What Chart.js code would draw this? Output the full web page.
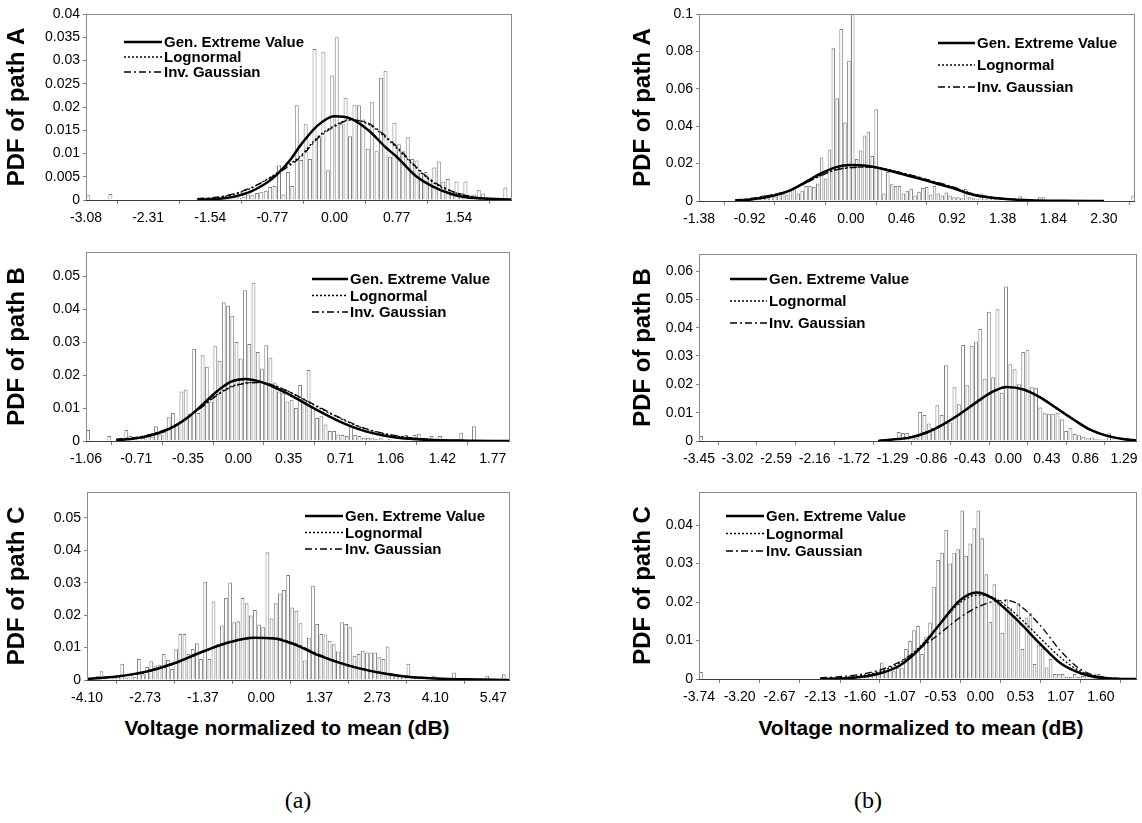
<!DOCTYPE html>
<html>
<head>
<meta charset="utf-8">
<script src="https://cdn.jsdelivr.net/npm/chart.js@4.4.0/dist/chart.umd.min.js"></script>
<style>
  body { margin: 0; background: #fff; width: 1142px; height: 823px; position: relative; overflow: hidden;
         font-family: "Liberation Sans", Arial, sans-serif; }
  canvas { position: absolute; }
  .xtitle { position: absolute; font-weight: bold; font-size: 21px; line-height: 24px; text-align: center; }
  .cap { position: absolute; font-family: "Liberation Serif", "Times New Roman", serif; font-size: 24px;
         line-height: 28px; text-align: center; width: 80px; }
</style>
</head>
<body>
<canvas id="aA"></canvas>
<canvas id="aB"></canvas>
<canvas id="aC"></canvas>
<canvas id="bA"></canvas>
<canvas id="bB"></canvas>
<canvas id="bC"></canvas>
<div class="xtitle" style="left:0;width:574px;top:716px">Voltage normalized to mean (dB)</div>
<div class="xtitle" style="left:621px;width:600px;top:716px">Voltage normalized to mean (dB)</div>
<div class="cap" style="left:258px;top:786px">(a)</div>
<div class="cap" style="left:828px;top:786px">(b)</div>
<script>
// Histogrammen (PDF per bin) + drie gefitte verdelingen, zes panelen.

const LABELS = ['Gen. Extreme Value', 'Lognormal', 'Inv. Gaussian'];

// ---- (a) path A ----
const aA_x0 = -3.08, aA_bw = 0.055;
const aA_hist = [
  0.0010, 0, 0, 0, 0, 0.0013, 0, 0, 0, 0,
  0, 0, 0, 0, 0, 0, 0, 0, 0, 0,
  0, 0, 0, 0, 0, 0, 0, 0, 0, 0,
  0, 0.0002, 0.0002, 0.0003, 0.0005, 0.0007, 0.0012, 0.0010, 0.0015, 0.0018,
  0.0020, 0.0028, 0.0030, 0.0074, 0.0012, 0.0060, 0.0030, 0.0204, 0.0086, 0.0163,
  0.0088, 0.0325, 0.0135, 0.0318, 0.0064, 0.0268, 0.0350, 0.0163, 0.0220, 0.0137,
  0.0204, 0.0204, 0.0173, 0.0110, 0.0210, 0.0105, 0.0263, 0.0278, 0.0093, 0.0166,
  0.0120, 0.0105, 0.0135, 0.0088, 0.0085, 0.0058, 0.0060, 0.0046, 0.0070, 0.0083,
  0.0040, 0.0045, 0.0020, 0.0040, 0.0015, 0.0040, 0.0010, 0.0012, 0.0022, 0.0014,
  0.0006, 0, 0, 0, 0.0027, 0
];
const aA_cx   = [-1.70, -1.46, -1.25, -1.04, -0.77, -0.55, -0.42, -0.21, 0.00, 0.20, 0.42, 0.63, 0.77, 1.02, 1.22, 1.43, 1.59, 1.84, 2.20];
const aA_gev  = [0.0000, 0.0002, 0.0007, 0.0018, 0.0046, 0.0086, 0.0118, 0.0160, 0.0180, 0.0175, 0.0150, 0.0114, 0.0093, 0.0050, 0.0029, 0.0014, 0.0007, 0.0003, 0.0001];
const aA_logn = [0.0002, 0.0005, 0.0012, 0.0025, 0.0052, 0.0078, 0.0095, 0.0135, 0.0160, 0.0173, 0.0163, 0.0135, 0.0112, 0.0068, 0.0038, 0.0020, 0.0011, 0.0004, 0.0001];
const aA_invg = [0.0003, 0.0006, 0.0013, 0.0026, 0.0050, 0.0075, 0.0092, 0.0132, 0.0158, 0.0172, 0.0165, 0.0138, 0.0115, 0.0070, 0.0040, 0.0021, 0.0011, 0.0004, 0.0001];
const aA_ticks  = [-3.08, -2.31, -1.54, -0.77, 0.00, 0.77, 1.54];
const aA_yticks = [0, 0.005, 0.01, 0.015, 0.02, 0.025, 0.03, 0.035, 0.04];

// ---- (a) path B ----
const aB_x0 = -1.06, aB_bw = 0.0295;
const aB_hist = [
  0.0033, 0, 0, 0, 0, 0.0015, 0, 0, 0, 0.0033,
  0.0015, 0.0008, 0.0003, 0.0010, 0.0018, 0.0013, 0.0045, 0.0020, 0.0028, 0.0072,
  0.0085, 0.0050, 0.0150, 0.0156, 0.0082, 0.0280, 0.0085, 0.0260, 0.0225, 0.0120,
  0.0287, 0.0243, 0.0421, 0.0410, 0.0380, 0.0300, 0.0250, 0.0457, 0.0294, 0.0480,
  0.0270, 0.0220, 0.0290, 0.0253, 0.0177, 0.0150, 0.0146, 0.0120, 0.0125, 0.0100,
  0.0170, 0.0125, 0.0215, 0.0100, 0.0070, 0.0075, 0.0050, 0.0030, 0.0030, 0.0020,
  0.0018, 0.0015, 0.0045, 0.0018, 0.0015, 0.0010, 0.0010, 0.0008, 0.0005, 0.0008,
  0, 0.0005, 0, 0, 0, 0.0018, 0, 0.0018, 0.0022, 0,
  0, 0.0015, 0, 0.0015, 0, 0, 0, 0, 0.0025, 0,
  0, 0.0045, 0, 0, 0, 0, 0, 0, 0, 0
];
const aB_cx   = [-0.85, -0.71, -0.62, -0.53, -0.44, -0.35, -0.25, -0.15, -0.05, 0.05, 0.15, 0.25, 0.35, 0.53, 0.71, 0.88, 1.06, 1.24, 1.42, 1.60, 1.89];
const aB_gev  = [0.0002, 0.0008, 0.0016, 0.0028, 0.0046, 0.0072, 0.0110, 0.0150, 0.0180, 0.0188, 0.0180, 0.0163, 0.0142, 0.0098, 0.0058, 0.0030, 0.0013, 0.0005, 0.0002, 0.0001, 0.0000];
const aB_logn = [0.0004, 0.0010, 0.0018, 0.0030, 0.0047, 0.0072, 0.0105, 0.0140, 0.0165, 0.0176, 0.0178, 0.0168, 0.0150, 0.0108, 0.0068, 0.0037, 0.0018, 0.0008, 0.0003, 0.0001, 0.0000];
const aB_invg = [0.0005, 0.0011, 0.0019, 0.0031, 0.0048, 0.0072, 0.0104, 0.0138, 0.0163, 0.0175, 0.0177, 0.0168, 0.0150, 0.0110, 0.0070, 0.0038, 0.0019, 0.0008, 0.0003, 0.0001, 0.0000];
const aB_ticks  = [-1.06, -0.71, -0.35, 0.00, 0.35, 0.71, 1.06, 1.42, 1.77];
const aB_yticks = [0, 0.01, 0.02, 0.03, 0.04, 0.05];

// ---- (a) path C ----
const aC_x0 = -4.10, aC_bw = 0.09764;
const aC_hist = [
  0.0003, 0.0008, 0.0013, 0.0027, 0.0003, 0, 0.0005, 0.0013, 0.0050, 0.0008,
  0.0018, 0.0010, 0.0065, 0.0018, 0.0040, 0.0058, 0.0045, 0.0047, 0.0080, 0.0062,
  0.0034, 0.0095, 0.0142, 0.0142, 0.0080, 0.0096, 0.0113, 0.0065, 0.0303, 0.0065,
  0.0242, 0.0110, 0.0168, 0.0253, 0.0301, 0.0178, 0.0181, 0.0253, 0.0237, 0.0199,
  0.0216, 0.0171, 0.0163, 0.0394, 0.0190, 0.0237, 0.0267, 0.0278, 0.0324, 0.0224,
  0.0214, 0.0175, 0.0060, 0.0130, 0.0291, 0.0173, 0.0142, 0.0140, 0.0121, 0.0110,
  0.0088, 0.0178, 0.0173, 0.0163, 0.0075, 0.0080, 0.0090, 0.0085, 0.0085, 0.0085,
  0.0070, 0.0065, 0.0103, 0.0020, 0.0018, 0.0015, 0.0012, 0.0050, 0.0010, 0.0008,
  0.0005, 0.0005, 0.0005, 0.0013, 0.0003, 0, 0.0003, 0, 0.0023, 0,
  0, 0, 0, 0, 0, 0, 0.0013, 0, 0, 0,
  0.0018, 0
];
const aC_cx   = [-4.10, -3.40, -2.73, -2.08, -1.37, -0.73, -0.17, 0.30, 0.78, 1.37, 2.04, 2.73, 3.38, 4.10, 4.80, 5.47, 5.86];
const aC_gev  = [0.0003, 0.0011, 0.0025, 0.0050, 0.0088, 0.0117, 0.0130, 0.0128, 0.0110, 0.0075, 0.0045, 0.0024, 0.0011, 0.0005, 0.0002, 0.0001, 0.0000];
const aC_logn = [0.0003, 0.0010, 0.0024, 0.0049, 0.0087, 0.0117, 0.0130, 0.0129, 0.0112, 0.0077, 0.0046, 0.0024, 0.0011, 0.0005, 0.0002, 0.0001, 0.0000];
const aC_invg = [0.0004, 0.0011, 0.0024, 0.0048, 0.0086, 0.0116, 0.0129, 0.0129, 0.0113, 0.0078, 0.0047, 0.0025, 0.0012, 0.0005, 0.0002, 0.0001, 0.0000];
const aC_ticks  = [-4.10, -2.73, -1.37, 0.00, 1.37, 2.73, 4.10, 5.47];
const aC_yticks = [0, 0.01, 0.02, 0.03, 0.04, 0.05];

// ---- (b) path A ----
const bA_x0 = -1.38, bA_bw = 0.03538;
const bA_hist = [
  0, 0, 0, 0, 0, 0, 0, 0, 0, 0,
  0, 0.0003, 0.0005, 0.0008, 0.0010, 0.0012, 0.0034, 0.0020, 0.0030, 0.0025,
  0.0045, 0.0040, 0.0035, 0.0057, 0.0062, 0.0040, 0.0055, 0.0080, 0.0080, 0.0075,
  0.0093, 0.0233, 0.0120, 0.0276, 0.0817, 0.0550, 0.0920, 0.0420, 0.0750, 0.1000,
  0.0224, 0.0270, 0.0350, 0.0370, 0.0240, 0.0490, 0.0180, 0.0040, 0.0155, 0.0090,
  0.0080, 0.0080, 0.0040, 0.0055, 0.0065, 0.0030, 0.0050, 0.0070, 0.0075, 0.0035,
  0.0080, 0.0040, 0.0030, 0.0045, 0.0030, 0.0020, 0.0020, 0.0015, 0.0066, 0.0020,
  0.0015, 0.0010, 0.0040, 0.0010, 0.0020, 0.0020, 0.0020, 0.0010, 0, 0,
  0, 0, 0.0025, 0, 0, 0, 0, 0.0020, 0.0020, 0,
  0, 0, 0, 0, 0, 0, 0, 0, 0, 0,
  0, 0, 0, 0, 0, 0, 0, 0, 0, 0,
  0, 0.0030
];
const bA_cx   = [-1.05, -0.92, -0.73, -0.58, -0.46, -0.28, -0.14, 0.00, 0.16, 0.30, 0.46, 0.62, 0.77, 0.92, 1.12, 1.38, 1.66, 1.90, 2.30];
const bA_gev  = [0.0001, 0.0007, 0.0025, 0.0050, 0.0085, 0.0145, 0.0180, 0.0192, 0.0187, 0.0170, 0.0145, 0.0120, 0.0095, 0.0070, 0.0032, 0.0012, 0.0003, 0.0001, 0.0000];
const bA_logn = [0.0005, 0.0012, 0.0030, 0.0052, 0.0082, 0.0135, 0.0167, 0.0180, 0.0182, 0.0172, 0.0150, 0.0126, 0.0100, 0.0075, 0.0036, 0.0014, 0.0004, 0.0001, 0.0000];
const bA_invg = [0.0006, 0.0013, 0.0031, 0.0053, 0.0082, 0.0133, 0.0165, 0.0178, 0.0181, 0.0172, 0.0151, 0.0127, 0.0102, 0.0077, 0.0037, 0.0014, 0.0004, 0.0001, 0.0000];
const bA_ticks  = [-1.38, -0.92, -0.46, 0.00, 0.46, 0.92, 1.38, 1.84, 2.30];
const bA_yticks = [0, 0.02, 0.04, 0.06, 0.08, 0.1];

// ---- (b) path B ----
const bB_x0 = -3.45, bB_bw = 0.04789;
const bB_hist = [
  0.0018, 0, 0, 0, 0, 0, 0, 0, 0, 0,
  0, 0, 0, 0, 0, 0, 0, 0, 0, 0,
  0, 0, 0, 0, 0, 0, 0, 0, 0, 0,
  0, 0, 0, 0, 0, 0, 0, 0, 0, 0,
  0, 0.0003, 0.0008, 0, 0, 0.0006, 0.0032, 0.0028, 0.0028, 0.0018,
  0.0010, 0.0102, 0.0092, 0.0062, 0.0047, 0.0126, 0.0092, 0.0267, 0.0065, 0.0190,
  0.0130, 0.0339, 0.0197, 0.0336, 0.0351, 0.0395, 0.0220, 0.0456, 0.0225, 0.0465,
  0.0170, 0.0545, 0.0271, 0.0253, 0.0200, 0.0314, 0.0322, 0.0190, 0.0188, 0.0118,
  0.0100, 0.0096, 0.0096, 0.0100, 0.0077, 0.0035, 0.0047, 0.0025, 0.0020, 0.0015,
  0.0010, 0.0012, 0.0008, 0.0005, 0.0005, 0.0027, 0.0005, 0.0003, 0, 0,
  0, 0
];
const bB_cx   = [-1.45, -1.29, -1.10, -0.91, -0.73, -0.54, -0.35, -0.17, -0.02, 0.17, 0.35, 0.54, 0.73, 0.91, 1.10, 1.29, 1.43];
const bB_gev  = [0.0000, 0.0005, 0.0012, 0.0030, 0.0058, 0.0095, 0.0138, 0.0175, 0.0191, 0.0182, 0.0155, 0.0115, 0.0075, 0.0040, 0.0018, 0.0006, 0.0002];
const bB_logn = [0.0001, 0.0005, 0.0013, 0.0031, 0.0058, 0.0095, 0.0137, 0.0174, 0.0190, 0.0182, 0.0156, 0.0116, 0.0076, 0.0041, 0.0019, 0.0007, 0.0003];
const bB_invg = [0.0001, 0.0006, 0.0014, 0.0032, 0.0059, 0.0095, 0.0137, 0.0173, 0.0189, 0.0182, 0.0156, 0.0117, 0.0077, 0.0042, 0.0020, 0.0008, 0.0003];
const bB_ticks  = [-3.45, -3.02, -2.59, -2.16, -1.72, -1.29, -0.86, -0.43, 0.00, 0.43, 0.86, 1.29];
const bB_yticks = [0, 0.01, 0.02, 0.03, 0.04, 0.05, 0.06];

// ---- (b) path C ----
const bC_x0 = -3.74, bC_bw = 0.0534;
const bC_hist = [
  0.0018, 0, 0, 0, 0, 0, 0, 0, 0, 0,
  0, 0, 0, 0, 0, 0, 0, 0, 0, 0,
  0, 0, 0, 0, 0, 0, 0, 0, 0, 0,
  0, 0, 0, 0, 0, 0, 0, 0, 0, 0.0005,
  0.0009, 0.0006, 0.0013, 0.0016, 0.0010, 0.0043, 0.0017, 0.0034, 0.0020, 0.0030,
  0.0028, 0.0078, 0.0099, 0.0127, 0.0138, 0.0065, 0.0110, 0.0147, 0.0240, 0.0309,
  0.0328, 0.0388, 0.0300, 0.0328, 0.0337, 0.0438, 0.0320, 0.0352, 0.0392, 0.0438,
  0.0366, 0.0272, 0.0149, 0.0246, 0.0194, 0.0120, 0.0207, 0.0185, 0.0165, 0.0198,
  0.0078, 0.0160, 0.0172, 0.0039, 0.0088, 0.0079, 0.0030, 0.0052, 0.0013, 0.0013,
  0.0013, 0.0005, 0.0005, 0.0013, 0.0005, 0.0008, 0.0016, 0.0003, 0.0005, 0.0013,
  0, 0, 0, 0, 0, 0, 0, 0, 0
];
const bC_cx   = [-2.13, -1.87, -1.60, -1.33, -1.07, -0.80, -0.53, -0.27, -0.05, 0.16, 0.37, 0.53, 0.80, 1.07, 1.33, 1.60, 1.87, 2.08];
const bC_gev  = [0.0000, 0.0001, 0.0005, 0.0015, 0.0035, 0.0080, 0.0145, 0.0205, 0.0225, 0.0210, 0.0175, 0.0145, 0.0090, 0.0040, 0.0015, 0.0003, 0.0000, 0.0000];
const bC_logn = [0.0001, 0.0003, 0.0008, 0.0020, 0.0042, 0.0085, 0.0145, 0.0198, 0.0218, 0.0213, 0.0185, 0.0158, 0.0105, 0.0055, 0.0020, 0.0006, 0.0001, 0.0000];
const bC_invg = [0.0003, 0.0006, 0.0012, 0.0024, 0.0045, 0.0080, 0.0120, 0.0160, 0.0186, 0.0201, 0.0204, 0.0190, 0.0138, 0.0072, 0.0025, 0.0006, 0.0001, 0.0000];
const bC_ticks  = [-3.74, -3.20, -2.67, -2.13, -1.60, -1.07, -0.53, 0.00, 0.53, 1.07, 1.60];
const bC_yticks = [0, 0.01, 0.02, 0.03, 0.04];

// layout: canvas box, plot box (page pixels), legend anchor
const PANELS = [
  { id: 'aA', title: 'PDF of path A', left: 0, top: 0, w: 530, h: 236, plot: { l: 86, t: 14, r: 512, b: 200 },
    ymax: 0.04, x0: aA_x0, bw: aA_bw, hist: aA_hist, cx: aA_cx, fits: [aA_gev, aA_logn, aA_invg],
    ticks: aA_ticks, yticks: aA_yticks, key: { x: 124, y: 42, gap: 15, len: 38 }, titleX: 17 },
  { id: 'aB', title: 'PDF of path B', left: 0, top: 238, w: 530, h: 238, plot: { l: 86, t: 252, r: 510, b: 441 },
    ymax: 0.0573, x0: aB_x0, bw: aB_bw, hist: aB_hist, cx: aB_cx, fits: [aB_gev, aB_logn, aB_invg],
    ticks: aB_ticks, yticks: aB_yticks, key: { x: 312, y: 279, gap: 16.5, len: 36 }, titleX: 17 },
  { id: 'aC', title: 'PDF of path C', left: 0, top: 478, w: 530, h: 237, plot: { l: 87, t: 492, r: 510, b: 680 },
    ymax: 0.058, x0: aC_x0, bw: aC_bw, hist: aC_hist, cx: aC_cx, fits: [aC_gev, aC_logn, aC_invg],
    ticks: aC_ticks, yticks: aC_yticks, key: { x: 305, y: 516, gap: 16.5, len: 38 }, titleX: 17 },
  { id: 'bA', title: 'PDF of path A', left: 600, top: 0, w: 542, h: 237, plot: { l: 699, t: 14, r: 1135, b: 201 },
    ymax: 0.1, x0: bA_x0, bw: bA_bw, hist: bA_hist, cx: bA_cx, fits: [bA_gev, bA_logn, bA_invg],
    ticks: bA_ticks, yticks: bA_yticks, key: { x: 938, y: 43, gap: 22, len: 37 }, titleX: 643 },
  { id: 'bB', title: 'PDF of path B', left: 600, top: 238, w: 542, h: 238, plot: { l: 699, t: 254, r: 1137, b: 441 },
    ymax: 0.066, x0: bB_x0, bw: bB_bw, hist: bB_hist, cx: bB_cx, fits: [bB_gev, bB_logn, bB_invg],
    ticks: bB_ticks, yticks: bB_yticks, key: { x: 730, y: 279, gap: 22, len: 37 }, titleX: 643 },
  { id: 'bC', title: 'PDF of path C', left: 600, top: 478, w: 542, h: 237, plot: { l: 699, t: 492, r: 1137, b: 679 },
    ymax: 0.0486, x0: bC_x0, bw: bC_bw, hist: bC_hist, cx: bC_cx, fits: [bC_gev, bC_logn, bC_invg],
    ticks: bC_ticks, yticks: bC_yticks, key: { x: 726, y: 516, gap: 17.5, len: 38 }, titleX: 643 }
];

const FONT = '"Liberation Sans", Arial, sans-serif';
Chart.defaults.font.family = FONT;
Chart.defaults.color = '#000';

const LINE_STYLES = [
  { borderWidth: 2.5, borderDash: [] },
  { borderWidth: 1.3, borderDash: [2, 2] },
  { borderWidth: 1.3, borderDash: [7, 3, 2, 3] }
];

// kader rond het plotgebied
const framePlugin = {
  id: 'frame',
  afterDatasetsDraw(chart) {
    const { ctx, chartArea: a } = chart;
    ctx.save();
    ctx.lineWidth = 1;
    ctx.strokeStyle = '#8a8a8a';
    ctx.strokeRect(Math.round(a.left) + 0.5, Math.round(a.top) + 0.5,
                   Math.round(a.right - a.left) - 1, Math.round(a.bottom - a.top));
    ctx.strokeStyle = '#3a3a3a';
    ctx.beginPath();
    ctx.moveTo(a.left, Math.round(a.bottom) + 0.5);
    ctx.lineTo(a.right, Math.round(a.bottom) + 0.5);
    ctx.stroke();
    ctx.restore();
  }
};

// legenda in het plotvlak, zoals in Excel
const keyPlugin = {
  id: 'keyBox',
  afterDraw(chart, args, opts) {
    const { ctx } = chart;
    const lines = chart.data.datasets.filter(d => d.type === 'line');
    ctx.save();
    ctx.font = 'bold 15px ' + FONT;
    ctx.textBaseline = 'middle';
    ctx.fillStyle = '#000';
    ctx.strokeStyle = '#000';
    lines.forEach((d, i) => {
      const y = opts.y + i * opts.gap;
      ctx.beginPath();
      ctx.setLineDash(d.borderDash || []);
      ctx.lineWidth = d.borderWidth;
      ctx.moveTo(opts.x, y);
      ctx.lineTo(opts.x + opts.len, y);
      ctx.stroke();
      ctx.setLineDash([]);
      ctx.fillText(d.label, opts.x + opts.len + 2, y + 1);
    });
    ctx.restore();
  }
};

function buildPanel(p) {
  const cv = document.getElementById(p.id);
  cv.width = p.w;
  cv.height = p.h;
  cv.style.left = p.left + 'px';
  cv.style.top = p.top + 'px';

  const padTop = p.plot.t - p.top;
  const padRight = p.left + p.w - p.plot.r;
  const yW = p.plot.l - p.left;
  const xH = p.top + p.h - p.plot.b;
  const xmax = p.x0 + p.hist.length * p.bw;

  const bars = p.hist.map((v, i) => ({ x: p.x0 + (i + 0.5) * p.bw, y: v }));
  const fitSets = p.fits.map((ys, k) => ({
    type: 'line',
    label: LABELS[k],
    data: p.cx.map((x, i) => ({ x, y: ys[i] })),
    borderColor: '#000',
    borderWidth: LINE_STYLES[k].borderWidth,
    borderDash: LINE_STYLES[k].borderDash,
    pointRadius: 0,
    fill: false,
    cubicInterpolationMode: 'monotone',
    order: k
  }));

  new Chart(cv, {
    type: 'bar',
    data: {
      datasets: [
        ...fitSets,
        {
          type: 'bar',
          label: 'hist',
          data: bars,
          backgroundColor: '#ffffff',
          borderColor: '#7c7c7c',
          borderWidth: 1,
          borderSkipped: 'bottom',
          barPercentage: 1,
          categoryPercentage: 0.9,
          order: 5
        }
      ]
    },
    options: {
      responsive: false,
      animation: false,
      events: [],
      layout: { padding: { top: padTop, right: padRight, left: 0, bottom: 0 } },
      plugins: {
        legend: { display: false },
        tooltip: { enabled: false },
        keyBox: { x: p.key.x - p.left, y: p.key.y - p.top, gap: p.key.gap, len: p.key.len }
      },
      scales: {
        x: {
          type: 'linear',
          min: p.x0,
          max: xmax,
          offset: false,
          border: { display: false },
          grid: { drawOnChartArea: false, drawTicks: true, tickLength: 4, color: '#808080' },
          ticks: {
            autoSkip: false, maxRotation: 0, minRotation: 0, padding: 6,
            font: { size: 14 },
            callback: v => Number(v).toFixed(2)
          },
          afterBuildTicks: s => { s.ticks = p.ticks.map(v => ({ value: v })); },
          afterFit: s => { s.height = xH; s.paddingLeft = 0; s.paddingRight = 0; }
        },
        y: {
          min: 0,
          max: p.ymax,
          border: { display: false },
          grid: { drawOnChartArea: false, drawTicks: true, tickLength: 3, color: '#808080' },
          ticks: {
            padding: 3,
            font: { size: 14 },
            callback: v => (v === 0 ? '0' : String(+Number(v).toFixed(3)))
          },
          title: {
            display: true,
            text: p.title,
            font: { size: 24, weight: 'bold' },
            padding: { top: p.titleX - p.left - 14.4, bottom: 0 }
          },
          afterBuildTicks: s => { s.ticks = p.yticks.map(v => ({ value: v })); },
          afterFit: s => { s.width = yW; s.paddingTop = 0; s.paddingBottom = 0; }
        }
      }
    },
    plugins: [framePlugin, keyPlugin]
  });
}

PANELS.forEach(buildPanel);
</script>
</body>
</html>
